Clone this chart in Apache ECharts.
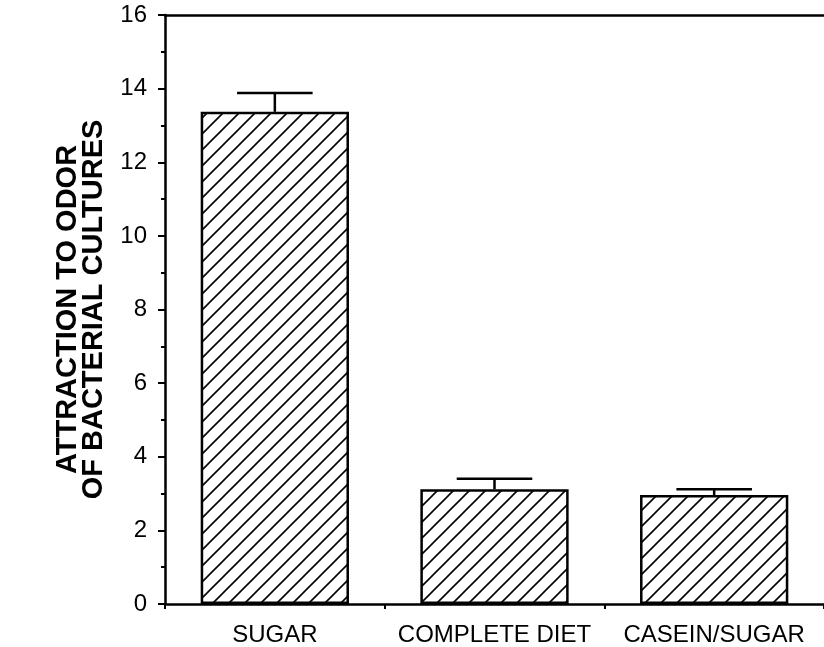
<!DOCTYPE html>
<html>
<head>
<meta charset="utf-8">
<script src="https://cdn.jsdelivr.net/npm/echarts@6/dist/echarts.min.js"></script>
<style>
  html, body { margin: 0; padding: 0; background: #ffffff; }
  #chart { width: 824px; height: 647px; }
</style>
</head>
<body>
<div id="chart"></div>
<script>
// Diet groups and mean attraction with standard error
const categories = ['SUGAR', 'COMPLETE DIET', 'CASEIN/SUGAR'];
const meanAttraction = [13.37, 3.12, 2.96];
const standardError = [0.51, 0.28, 0.16];
const yMin = 0;
const yMax = 16;
const yStep = 2;

const FONT = '"Liberation Sans", Arial, Helvetica, sans-serif';

// Diagonal "/" hatch tile used as the bar fill
function makeHatch(period, width) {
  const c = document.createElement('canvas');
  c.width = period; c.height = period;
  const g = c.getContext('2d');
  g.fillStyle = '#ffffff';
  g.fillRect(0, 0, period, period);
  g.strokeStyle = '#000000';
  g.lineWidth = width;
  g.lineCap = 'square';
  g.beginPath();
  g.moveTo(-1, period + 1); g.lineTo(period + 1, -1);
  g.moveTo(-2, 2); g.lineTo(2, -2);
  g.moveTo(period - 2, period + 2); g.lineTo(period + 2, period - 2);
  g.stroke();
  return c;
}
const hatch = makeHatch(16, 1.6);

const errorData = categories.map((c, i) => [i, meanAttraction[i], meanAttraction[i] + standardError[i]]);

const chart = echarts.init(document.getElementById('chart'), null, { renderer: 'canvas' });

const axisLine = { show: true, lineStyle: { color: '#000', width: 2.5 } };

chart.setOption({
  animation: false,
  backgroundColor: '#ffffff',
  grid: { left: 165, right: 0, top: 15, bottom: 43, containLabel: false },
  xAxis: [
    {
      type: 'category',
      data: categories,
      position: 'bottom',
      boundaryGap: true,
      axisLine: axisLine,
      axisTick: { show: true, inside: false, length: 5, lineStyle: { color: '#000', width: 2 } },
      axisLabel: { color: '#000', fontFamily: FONT, fontSize: 24, margin: 19, interval: 0 },
      splitLine: { show: false }
    },
    {
      type: 'category',
      data: categories,
      position: 'top',
      axisLine: axisLine,
      axisTick: { show: false },
      axisLabel: { show: false },
      splitLine: { show: false }
    }
  ],
  yAxis: {
    type: 'value',
    min: yMin,
    max: yMax,
    interval: yStep,
    name: 'ATTRACTION TO ODOR\nOF BACTERIAL CULTURES',
    nameLocation: 'middle',
    nameRotate: 90,
    nameGap: 58,
    nameTextStyle: { color: '#000', fontFamily: FONT, fontWeight: 'bold', fontSize: 29, lineHeight: 26 },
    axisLine: axisLine,
    axisTick: { show: true, inside: false, length: 7, lineStyle: { color: '#000', width: 2 } },
    minorTick: { show: true, splitNumber: 2, length: 4, lineStyle: { color: '#000', width: 2 } },
    axisLabel: { color: '#000', fontFamily: FONT, fontSize: 24, margin: 18 },
    splitLine: { show: false },
    minorSplitLine: { show: false }
  },
  series: [
    {
      type: 'bar',
      data: meanAttraction,
      barWidth: '67.5%',
      itemStyle: {
        color: { image: hatch, repeat: 'repeat' },
        borderColor: '#000',
        borderWidth: 2.5
      },
      z: 2
    },
    {
      type: 'custom',
      data: errorData,
      z: 3,
      renderItem: function (params, api) {
        const base = api.coord([api.value(0), api.value(1)]);
        const top = api.coord([api.value(0), api.value(2)]);
        const half = api.size([1, 0])[0] * 0.172;
        const style = { stroke: '#000', lineWidth: 2.5, fill: null };
        return {
          type: 'group',
          children: [
            { type: 'line', shape: { x1: base[0], y1: base[1], x2: top[0], y2: top[1] }, style: style },
            { type: 'line', shape: { x1: top[0] - half, y1: top[1], x2: top[0] + half, y2: top[1] }, style: style }
          ]
        };
      }
    }
  ]
});
</script>
</body>
</html>
